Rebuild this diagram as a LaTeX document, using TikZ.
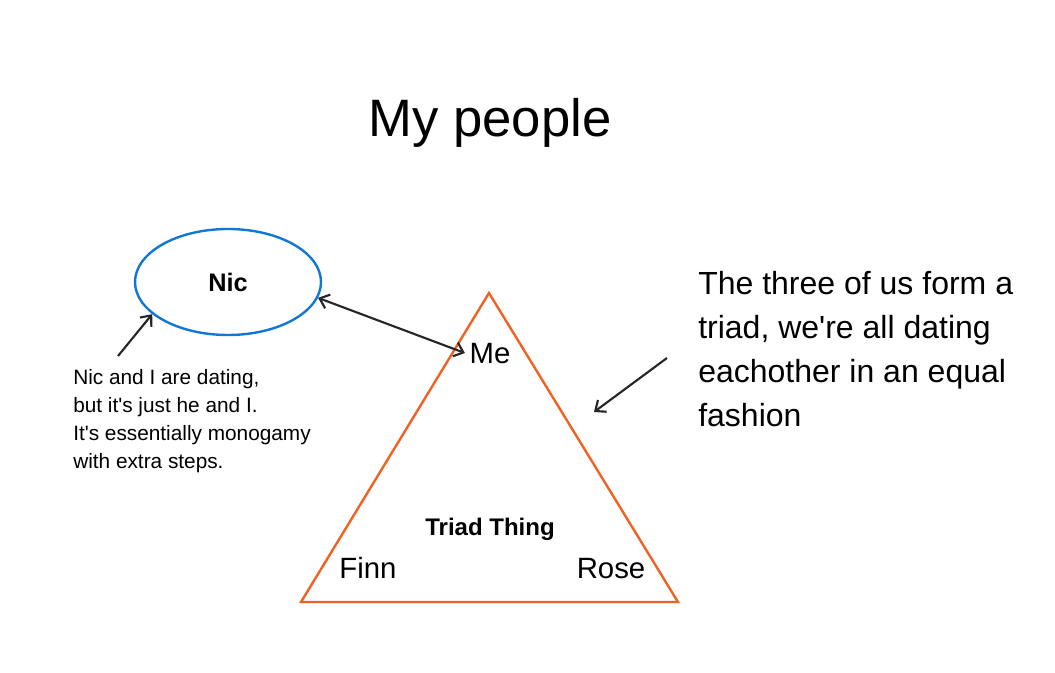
\documentclass[tikz,border=0pt]{standalone}
\usepackage{fontspec}
\setmainfont{Liberation Sans}[Ligatures=TeXOff]
\usetikzlibrary{shapes.geometric,arrows.meta}
\definecolor{nicblue}{RGB}{16,120,212}
\definecolor{triadorange}{RGB}{240,98,34}
\definecolor{inkgray}{RGB}{38,38,38}

\begin{document}
\begin{tikzpicture}[x=0.75pt,y=-0.75pt,
    link/.style={line width=1.6pt,inkgray,arrows={-Straight Barb[length=6.5pt,width=11pt]}},
    twolink/.style={link,arrows={Straight Barb[length=6.5pt,width=11pt]-Straight Barb[length=6.5pt,width=11pt]}},
    triad/.style={line width=1.8pt,triadorange,line join=miter},
    person/.style={font=\fontsize{22}{26}\selectfont},
    notetext/.style={inner sep=0pt,align=left,anchor=north west}]
    \useasboundingbox (0,0) rectangle (1055,673);

    \node[anchor=base,font=\fontsize{39.5}{45}\selectfont] (title) at (490,137) {My people};

    \node[ellipse,draw=nicblue,line width=1.8pt,minimum width=139.5pt,minimum height=79.5pt,
          font=\bfseries\fontsize{19}{23}\selectfont] (nic) at (228,282) {Nic};

    \coordinate (top)   at (489,293);
    \coordinate (left)  at (301,602);
    \coordinate (right) at (678,602);
    \draw[triad] (top) -- (right) -- (left) -- cycle;

    \node[person,anchor=base] (me)   at (490,363) {Me};
    \node[person,anchor=base] (finn) at (368,578) {Finn};
    \node[person,anchor=base] (rose) at (611,578) {Rose};
    \node[anchor=base,font=\bfseries\fontsize{18}{22}\selectfont] (thing) at (490,535) {Triad Thing};

    \node[notetext,font=\fontsize{15.6}{21}\selectfont] (pairnote) at (73,369)
        {Nic and I are dating,\\but it's just he and I.\\It's essentially monogamy\\with extra steps.};
    \node[notetext,font=\fontsize{24}{33}\selectfont] (triadnote) at (698,271)
        {The three of us form a\\triad, we're all dating\\eachother in an equal\\fashion};

    % connectors
    \coordinate (pairtail)  at (118,356);
    \coordinate (triadtail) at (667,358);
    \coordinate (triadtip)  at (594,412);
    \draw[twolink] (nic.-10) -- (me.west);
    \draw[link] (pairtail) -- (nic.203);
    \draw[link] (triadtail) -- (triadtip);
\end{tikzpicture}
\end{document}
